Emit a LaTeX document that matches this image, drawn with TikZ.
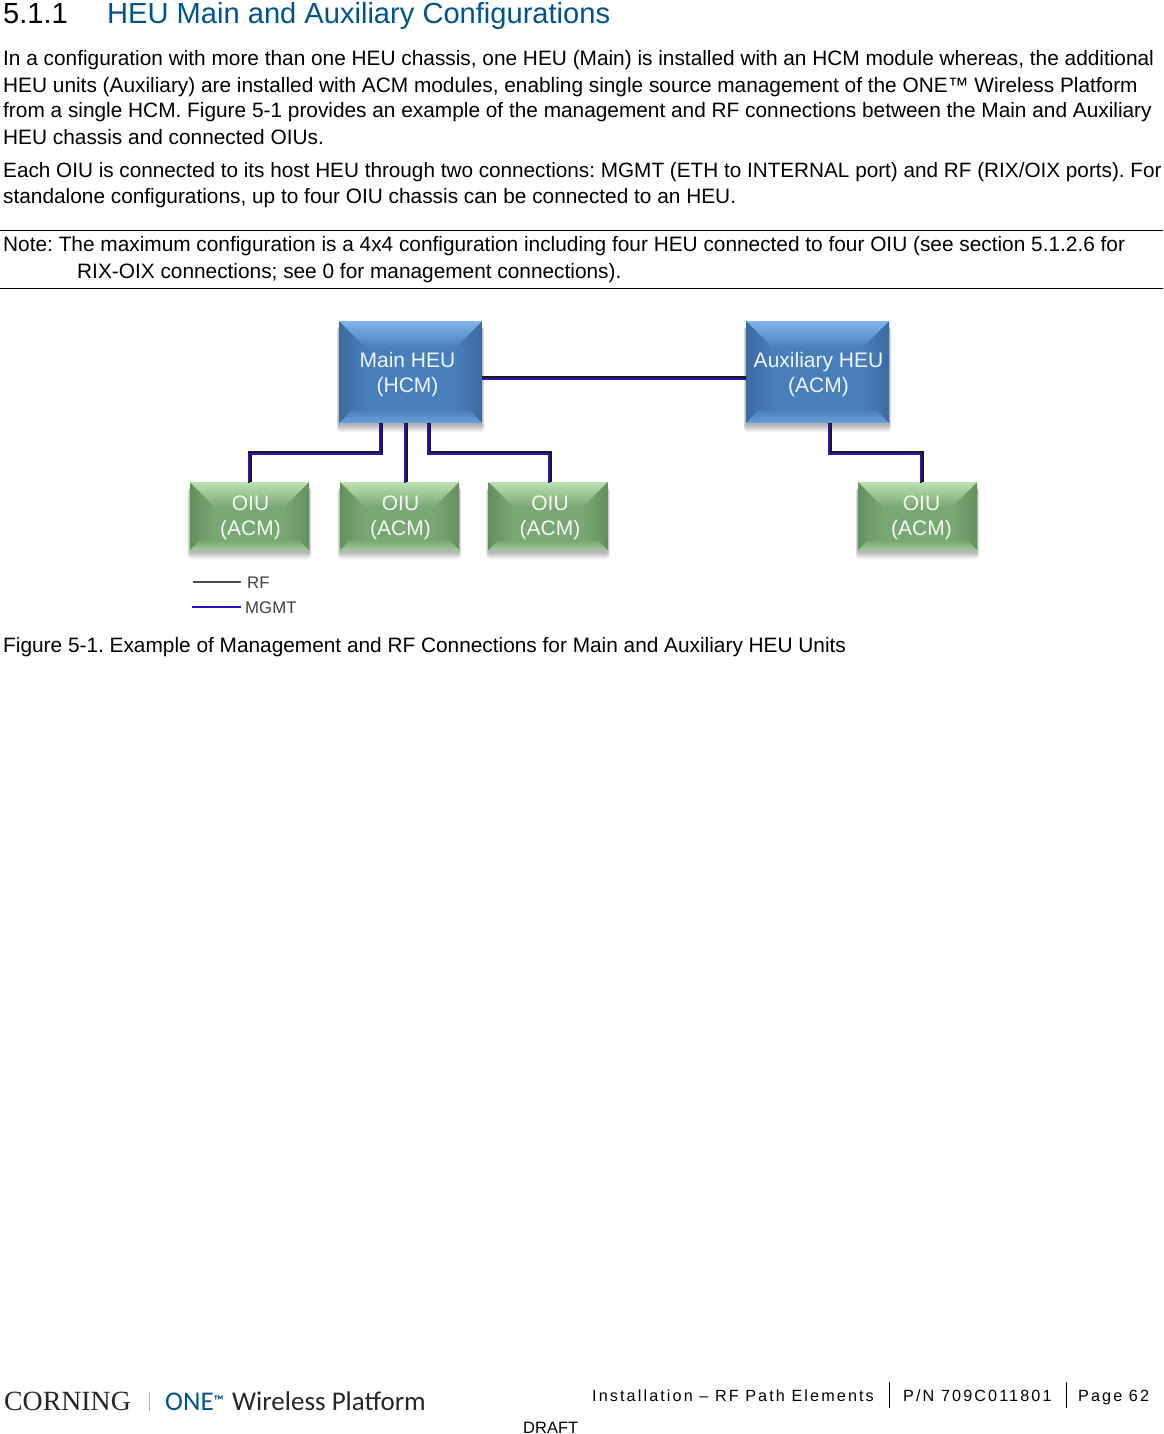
\documentclass[tikz,border=0pt]{standalone}
\usepackage{fontspec}
\setmainfont{Liberation Sans}
\newfontfamily\seriffam{Liberation Serif}
\newfontfamily\logofam{Carlito}
\newfontfamily\spacedfam[LetterSpace=13]{Liberation Sans}
\usetikzlibrary{calc,backgrounds}
\definecolor{headblue}{RGB}{0,84,140}
\definecolor{mgmtblue}{RGB}{40,20,190}
\definecolor{heumid}{RGB}{72,126,188}
\definecolor{heulight}{RGB}{128,182,236}
\definecolor{heudark}{RGB}{60,106,160}
\definecolor{oiumid}{RGB}{122,168,116}
\definecolor{oiulight}{RGB}{190,224,178}
\definecolor{oiudark}{RGB}{100,144,96}
\newcommand{\bevel}[4]{%
  \path[fill=#3] (path picture bounding box.north west) rectangle (path picture bounding box.south east);
  \coordinate (nw) at (path picture bounding box.north west);
  \coordinate (se) at (path picture bounding box.south east);
  \coordinate (ne) at (path picture bounding box.north east);
  \coordinate (sw) at (path picture bounding box.south west);
  \shade[left color=#4,right color=#3] (nw) -- ($(nw)+(#1pt,-#1pt)$) -- ($(sw)+(#1pt,#2pt)$) -- (sw) -- cycle;
  \shade[left color=#3,right color=#4] (ne) -- ($(ne)+(-#1pt,-#1pt)$) -- ($(se)+(-#1pt,#2pt)$) -- (se) -- cycle;
}
\newcommand{\softshadow}[1]{%
  \foreach \r in {9,8,...,1}{
    \fill[black,opacity=0.035,rounded corners=\r pt/2]
      ($(#1.north west)+(-\r pt/4,-6pt)$) rectangle ($(#1.south east)+(\r pt/4,{-0.9*\r pt-1pt})$);
  }%
}
\tikzset{
  x=1pt,y=-1pt,
  line/.style={anchor=base west,inner sep=0pt,font=\fontsize{20.83}{24}\selectfont,text=black},
  chassis/.style={draw=none,inner sep=0pt,align=center,font=\fontsize{21}{25}\selectfont},
  heubox/.style={chassis,minimum width=143pt,minimum height=102pt,text=white!88!heulight,
    path picture={
      \bevel{27}{13}{heumid}{heudark}
      \shade[top color=heulight,bottom color=heumid] (nw) -- (ne) -- ($(ne)+(-27pt,-27pt)$) -- ($(nw)+(27pt,-27pt)$) -- cycle;
      \shade[top color=heumid,bottom color=heulight!60!heumid] (sw) -- (se) -- ($(se)+(-13pt,13pt)$) -- ($(sw)+(13pt,13pt)$) -- cycle;
    }},
  oiubox/.style={chassis,minimum width=119pt,minimum height=68pt,text=white!85!oiulight,
    path picture={
      \bevel{25}{9}{oiumid}{oiudark}
      \shade[top color=oiulight,bottom color=oiumid] (nw) -- (ne) -- ($(ne)+(-25pt,-25pt)$) -- ($(nw)+(25pt,-25pt)$) -- cycle;
      \shade[top color=oiumid,bottom color=oiulight!60!oiumid] (sw) -- (se) -- ($(se)+(-9pt,9pt)$) -- ($(sw)+(9pt,9pt)$) -- cycle;
    }},
  rfwire/.style={draw=black!90,line width=4pt},
  mgmtwire/.style={draw=mgmtblue,line width=2.2pt,transform canvas={shift={(-0.7pt,-0.8pt)}}},
  legendrf/.style={draw=black!70,line width=2pt},
  legendmg/.style={draw=mgmtblue,line width=2pt},
  legendtext/.style={anchor=base west,inner sep=0pt,font=\fontsize{16.8}{19}\selectfont,text=black!75},
  foot/.style={anchor=base west,inner sep=0pt,font=\fontsize{16.2}{19}\spacedfam,text=black},
  every node/.append style={execute at begin node=\frenchspacing},
}
\begin{document}
\begin{tikzpicture}
\useasboundingbox (0,0) rectangle (1163,1434);
% heading
\node[anchor=base west,inner sep=0pt,font=\fontsize{29.1}{34}\selectfont] (hnum) at (3,24) {5.1.1};
\node[anchor=base west,inner sep=0pt,font=\fontsize{29.1}{34}\selectfont,text=headblue] (htitle) at (107,24) {HEU Main and Auxiliary Configurations};
% body
\node[line] (l1) at (3,65.5) {In a configuration with more than one HEU chassis, one HEU (Main) is installed with an HCM module whereas, the additional};
\node[line] (l2) at (3,92.5) {HEU units (Auxiliary) are installed with ACM modules, enabling single source management of the ONE™ Wireless Platform};
\node[line] (l3) at (3,117.5) {from a single HCM. Figure 5-1 provides an example of the management and RF connections between the Main and Auxiliary};
\node[line] (l4) at (3,144.5) {HEU chassis and connected OIUs.};
\node[line,font=\fontsize{20.72}{24}\selectfont] (l5) at (3,178) {Each OIU is connected to its host HEU through two connections: MGMT (ETH to INTERNAL port) and RF (RIX/OIX ports). For};
\node[line] (l6) at (3,204) {standalone configurations, up to four OIU chassis can be connected to an HEU.};
\draw[line width=0.8pt] (0,230.5) -- (1163,230.5);
\node[line] (n1) at (3,251.5) {Note: The maximum configuration is a 4x4 configuration including four HEU connected to four OIU (see section 5.1.2.6 for};
\node[line] (n2) at (77,278.5) {RIX-OIX connections; see 0 for management connections).};
\draw[line width=0.8pt] (0,288.5) -- (1163,288.5);
% chassis
\node[heubox] (main) at (410.5,372) {\rule{0pt}{21pt}Main HEU\hspace*{6pt}\\(HCM)\hspace*{6pt}};
\node[heubox] (aux) at (817.5,372) {\rule{0pt}{19.5pt}\hspace*{2pt}Auxiliary HEU\\\hspace*{2pt}(ACM)};
\node[oiubox] (o1) at (249.5,516) {\rule{0pt}{18pt}\hspace*{2pt}OIU\\\hspace*{2pt}(ACM)};
\node[oiubox] (o2) at (399.5,516) {\rule{0pt}{18pt}\hspace*{2pt}OIU\\\hspace*{2pt}(ACM)};
\node[oiubox] (o3) at (548,516) {\rule{0pt}{18pt}\hspace*{4pt}OIU\\\hspace*{4pt}(ACM)};
\node[oiubox] (o4) at (917.5,516) {\rule{0pt}{18pt}\hspace*{8pt}OIU\\\hspace*{8pt}(ACM)};
\begin{scope}[on background layer]
  \fill[white] (0,0) rectangle (1163,1434);
  \foreach \b in {main,aux,o1,o2,o3,o4}{\softshadow{\b}}
\end{scope}
% connectors
\foreach \sty in {rfwire,mgmtwire}{
  \draw[\sty] ([yshift=-6pt]main.east) -- ([yshift=-6pt]aux.west);
  \draw[\sty] ([xshift=-29.5pt]main.south) |- (250,453) -- ([xshift=0.5pt]o1.north);
  \draw[\sty] ([xshift=-5pt]main.south) -- ([xshift=6pt]o2.north);
  \draw[\sty] ([xshift=18.5pt]main.south) |- (550,453) -- ([xshift=2pt]o3.north);
  \draw[\sty] ([xshift=12.5pt]aux.south) |- (922,453) -- ([xshift=4.5pt]o4.north);
}
% legend
\coordinate (rfa) at (193,582); \coordinate (rfb) at (241,582);
\coordinate (mga) at (192,607); \coordinate (mgb) at (241,607);
\draw[legendrf] (rfa) -- (rfb);
\draw[legendmg] (mga) -- (mgb);
\node[legendtext] (rflab) at (247,588) {RF};
\node[legendtext] (mglab) at (245,613) {MGMT};
% caption
\node[line] (cap) at (3,652) {Figure 5-1. Example of Management and RF Connections for Main and Auxiliary HEU Units};
% footer
\node[anchor=base west,inner sep=0pt,font=\seriffam\fontsize{27.8}{30}\selectfont,text=black!85] (corning) at (4,1410) {CORNING};
\draw[black!30,line width=0.8pt] (149,1392) -- (149,1411);
\node[anchor=base west,inner sep=0pt,font=\logofam\fontsize{27}{30}\selectfont,text=headblue] (one) at (165,1410) {ONE\raisebox{5pt}{\fontsize{14}{14}\selectfont\bfseries ™}};
\node[anchor=base west,inner sep=0pt,font=\logofam\fontsize{27}{30}\selectfont,text=black!85] (wp) at (232,1410) {Wireless Platform};
\node[foot] (f1) at (592,1401) {Installation – RF Path Elements};
\draw[line width=0.8pt] (889,1382) -- (889,1408);
\node[foot] (f2) at (903,1401) {P/N 709C011801};
\draw[line width=0.8pt] (1066,1382) -- (1066,1408);
\node[foot] (f3) at (1078,1401) {Page 62};
\node[anchor=base west,inner sep=0pt,font=\fontsize{16.5}{19}\selectfont] (draft) at (523,1433) {DRAFT};
\end{tikzpicture}
\end{document}
